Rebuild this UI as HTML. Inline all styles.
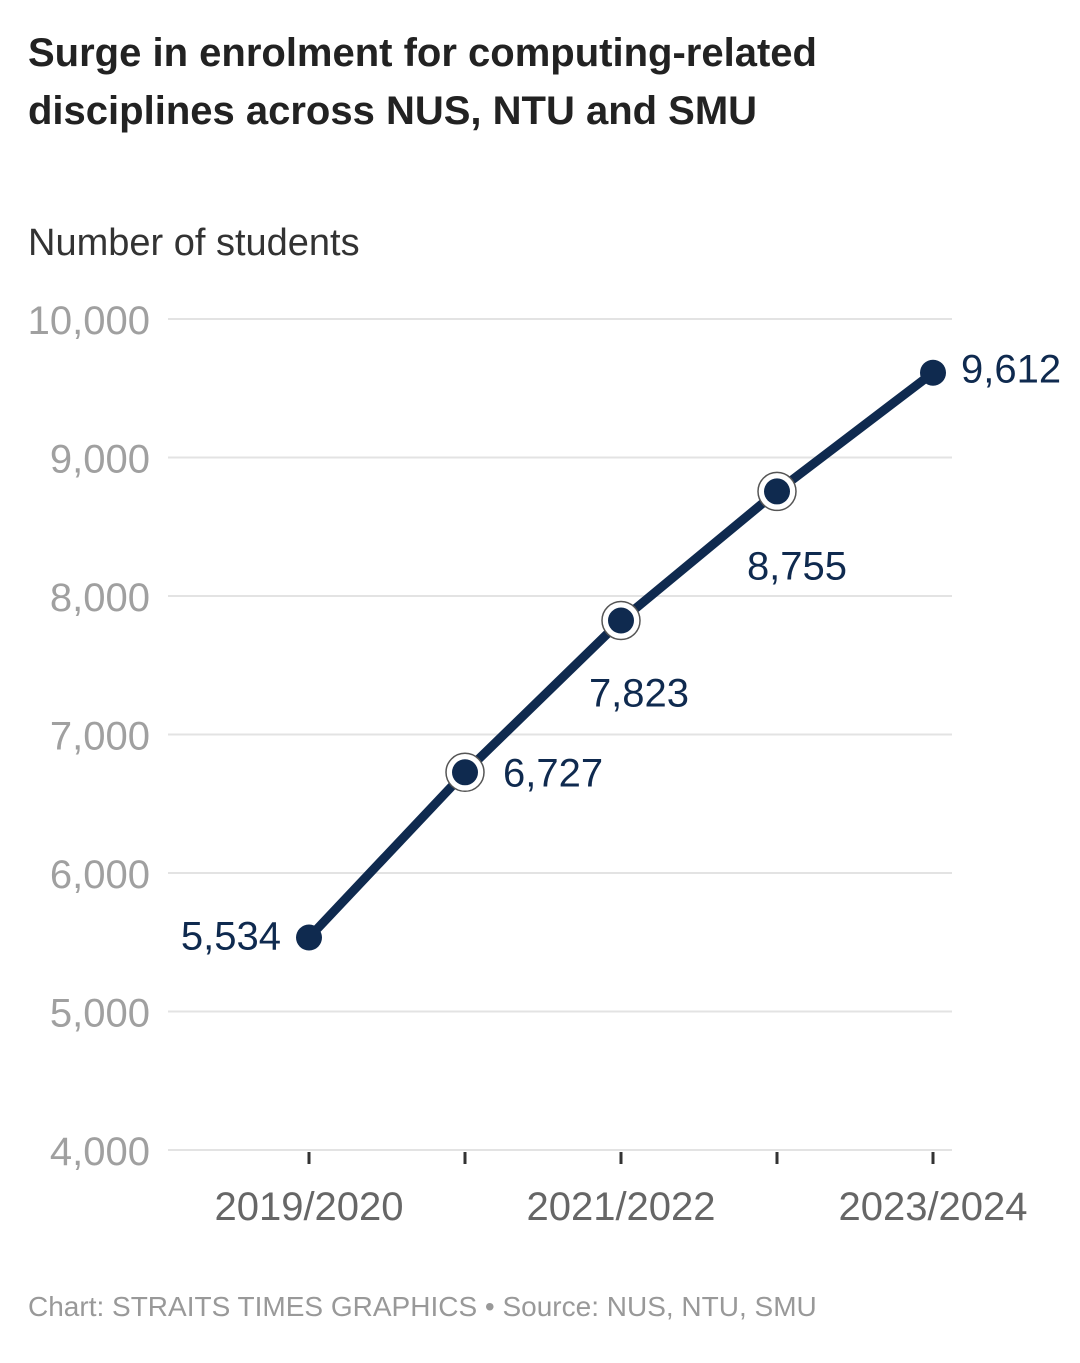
<!DOCTYPE html>
<html><head><meta charset="utf-8"><style>
body{margin:0;background:#fff;width:1080px;height:1358px;overflow:hidden;font-family:"Liberation Sans",sans-serif}
</style></head><body>
<svg width="1080" height="1358">
<text x="28" y="66" font-size="40" font-weight="bold" fill="#222">Surge in enrolment for computing-related</text>
<text x="28" y="124" font-size="40" font-weight="bold" fill="#222">disciplines across NUS, NTU and SMU</text>
<text x="28" y="255" font-size="38" fill="#333">Number of students</text>
<g id="grid"></g><g id="xt"></g><g id="series"></g>
<text x="28" y="1316" font-size="28" fill="#999">Chart: STRAITS TIMES GRAPHICS • Source: NUS, NTU, SMU</text>
</svg>
<script>
const categories=["2019/2020","2020/2021","2021/2022","2022/2023","2023/2024"];
const values=[5534,6727,7823,8755,9612];
const yTicks=[4000,5000,6000,7000,8000,9000,10000];
const xLabels=["2019/2020","","2021/2022","","2023/2024"];
const NS="http://www.w3.org/2000/svg";
const y=v=>1150-(v-4000)*(831/6000);
const x=i=>309+i*156;
function mk(t,a,p){const e=document.createElementNS(NS,t);for(const k in a)e.setAttribute(k,a[k]);p.appendChild(e);return e;}
const g=document.getElementById('grid'),xt=document.getElementById('xt'),s=document.getElementById('series');
yTicks.forEach(v=>{
 const l=mk('line',{x1:168,x2:952,y1:y(v),y2:y(v),stroke:'#e3e3e3','stroke-width':2},g);
 
 
 const t=mk('text',{x:150,y:y(v)+15,'font-size':40,fill:'#a0a0a0','text-anchor':'end'},g);
 t.textContent=v.toLocaleString('en-US');
 
 
});
categories.forEach((c,i)=>{
 const l=mk('line',{x1:x(i),x2:x(i),y1:1152,y2:1164,stroke:'#333','stroke-width':3},xt);
 
 
 if(xLabels[i]){const t=mk('text',{x:x(i),y:1220,'font-size':40,fill:'#666','text-anchor':'middle'},xt);
 t.textContent=xLabels[i];
 
 }
});
const pl=mk('polyline',{points:values.map((v,i)=>x(i)+','+y(v)).join(' '),fill:'none',stroke:'#0f2a4f','stroke-width':9,'stroke-linejoin':'round'},s);


const lab=[[-28,12,'end'],[38,14,'start'],[18,86,'middle'],[20,88,'middle'],[28,10,'start']];
values.forEach((v,i)=>{
 if(i>0&&i<values.length-1){const r=mk('circle',{cx:x(i),cy:y(v),r:19,fill:'#fff',stroke:'#555','stroke-width':1.5},s);
 
 }
 const c=mk('circle',{cx:x(i),cy:y(v),r:13,fill:'#0f2a4f'},s);
 
 
 const t=mk('text',{x:x(i)+lab[i][0],y:y(v)+lab[i][1],'font-size':40,fill:'#0f2a4f','text-anchor':lab[i][2]},s);
 t.textContent=v.toLocaleString('en-US');
 
 
});
</script>
</body></html>
